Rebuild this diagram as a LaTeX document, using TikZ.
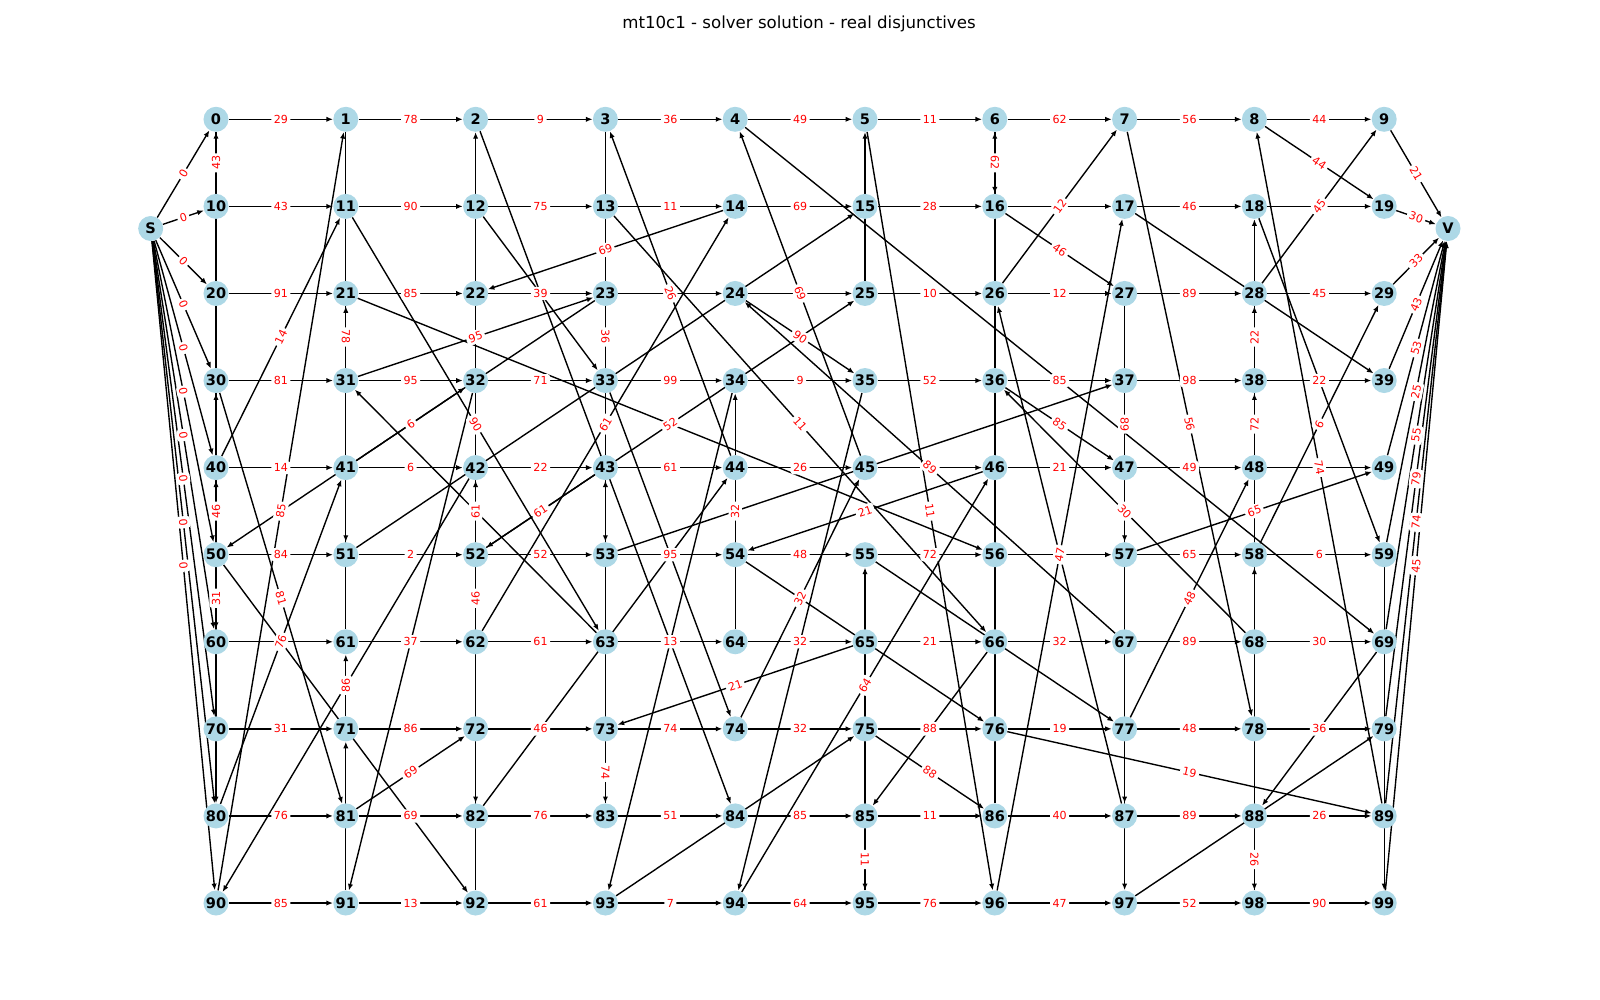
\documentclass[tikz,border=0pt]{standalone}
\usepackage{fontspec}
\setmainfont{DejaVu Sans}
\usetikzlibrary{arrows.meta}
\definecolor{opblue}{RGB}{173,216,230}
\pgfdeclarelayer{edges}
\pgfdeclarelayer{weights}
\pgfsetlayers{edges,weights,main}

\newcommand{\toV}{9/21, 19/30, 29/33, 39/43, 49/53, 59/25, 69/55, 79/79, 89/74, 99/45}
\newcommand{\labelledarcs}{0/1/29, 1/2/78, 2/3/9, 3/4/36, 4/5/49, 5/6/11, 6/7/62, 7/8/56, 8/9/44,
  10/11/43, 11/12/90, 12/13/75, 13/14/11, 14/15/69, 15/16/28, 17/18/46,
  20/21/91, 21/22/85, 22/23/39, 25/26/10, 26/27/12, 27/28/89, 28/29/45,
  30/31/81, 31/32/95, 32/33/71, 33/34/99, 34/35/9, 35/36/52, 36/37/85, 37/38/98, 38/39/22,
  40/41/14, 41/42/6, 42/43/22, 43/44/61, 44/45/26, 46/47/21, 47/48/49,
  50/51/84, 51/52/2, 52/53/52, 53/54/95, 54/55/48, 55/56/72, 57/58/65, 58/59/6,
  61/62/37, 62/63/61, 63/64/13, 64/65/32, 65/66/21, 66/67/32, 67/68/89, 68/69/30,
  70/71/31, 71/72/86, 72/73/46, 73/74/74, 74/75/32, 75/76/88, 76/77/19, 77/78/48, 78/79/36,
  80/81/76, 81/82/69, 82/83/76, 83/84/51, 84/85/85, 85/86/11, 86/87/40, 87/88/89, 88/89/26,
  90/91/85, 91/92/13, 92/93/61, 93/94/7, 94/95/64, 95/96/76, 96/97/47, 97/98/52, 98/99/90,
  10/0/43, 80/41/76, 41/32/6, 71/61/86,
  60/30/46, 30/81/81, 81/72/69, 72/42/46, 90/1/85, 1/51/78,
  70/40/31, 40/11/14, 11/63/90, 31/23/95, 92/2/61,
  62/14/61, 14/22/69, 44/3/26, 3/53/36,
  74/45/32, 45/4/69, 88/98/26, 58/29/6,
  65/73/21, 73/83/74, 43/52/61, 52/25/52, 5/96/11, 96/17/47,
  64/34/32, 75/86/88, 6/16/62, 16/27/46, 27/57/89, 57/49/65,
  68/36/30, 36/47/85, 26/7/12, 7/78/56,
  67/24/89, 24/35/90, 94/46/64, 46/54/21, 76/89/19, 89/8/74, 8/19/44,
  13/66/11, 85/95/11, 77/48/48, 48/38/72, 38/28/22, 28/9/45}
\newcommand{\barearcs}{16/17, 18/19, 23/24, 24/25, 45/46, 48/49, 56/57, 60/61,
  0/80, 32/91, 91/71, 61/21, 21/56,
  20/60, 42/90, 51/15,
  63/31, 23/50, 50/92, 2/84,
  22/82, 82/44, 53/37, 37/97, 97/79,
  12/33, 33/74, 4/69, 69/88, 98/58,
  83/43, 25/5, 17/39,
  34/93, 93/75, 86/6,
  47/87, 87/26, 78/18, 18/59, 59/99,
  35/94, 54/76,
  66/85, 95/55, 55/77}

\begin{document}
\begin{tikzpicture}[x=0.01in, y=-0.01in,
  op/.style={circle, fill=opblue, inner sep=0pt, minimum size=0.25in,
    font=\fontsize{10.5}{12}\selectfont\bfseries},
  dep/.style={-{Latex[length=4.8pt,width=3.8pt]}, line width=1pt},
  wt/.style={sloped, fill=white, text=red, rounded corners=2pt, inner sep=1.8pt,
    font=\fontsize{8}{9}\selectfont}]
\useasboundingbox (0,0) rectangle (1600,1000);
\node[font=\fontsize{12}{14}\selectfont] (title) at (799,24)
  {mt10c1 - solver solution - real disjunctives};
\foreach \r in {0,...,9}
  \foreach \c in {0,...,9} {
    \pgfmathtruncatemacro{\id}{10*\r+\c}
    \node[op] (n\id) at ({216+129.8*\c},{119.3+87.08*\r}) {\id};
  }
\node[op] (S) at (150.7,228.5) {S};
\node[op] (V) at (1448,228.5) {V};
\begin{pgfonlayer}{edges}
\foreach \a in {0,10,...,90} \draw[dep] (S) -- (n\a);
\foreach \a/\w in \toV \draw[dep] (n\a) -- (V);
\foreach \a/\b/\w in \labelledarcs \draw[dep] (n\a) -- (n\b);
\foreach \a/\b in \barearcs \draw[dep] (n\a) -- (n\b);
\end{pgfonlayer}
\begin{pgfonlayer}{weights}
\foreach \a in {0,10,...,90} \path (S) -- node[wt]{0} (n\a);
\foreach \a/\w in \toV \path (n\a) -- node[wt]{\w} (V);
\foreach \a/\b/\w in \labelledarcs \path (n\a) -- node[wt]{\w} (n\b);
\end{pgfonlayer}
\end{tikzpicture}
\end{document}
